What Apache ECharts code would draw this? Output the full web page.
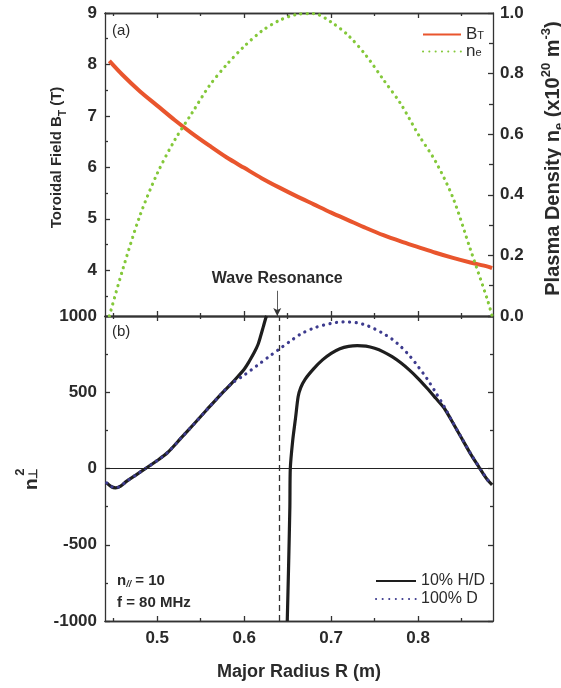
<!DOCTYPE html>
<html><head><meta charset="utf-8">
<script src="https://cdn.jsdelivr.net/npm/echarts@6/dist/echarts.min.js"></script>
<style>html,body{margin:0;padding:0;background:#fff}#c{width:561px;height:688px}</style>
</head><body><div id="c"></div>
<script>
// ---- Panel (a): toroidal field and density vs major radius ----
const rA = [0.445,0.46,0.48,0.50,0.52,0.54,0.56,0.58,0.60,0.62,0.64,0.66,0.68,0.70,0.72,0.74,0.76,0.78,0.80,0.82,0.84,0.86,0.88,0.885];
const bT = [8.07,7.80,7.48,7.20,6.92,6.66,6.42,6.19,5.99,5.79,5.61,5.44,5.28,5.12,4.97,4.82,4.68,4.56,4.45,4.34,4.24,4.15,4.07,4.04];
const ne = [0.0,0.15,0.33,0.47,0.58,0.67,0.76,0.83,0.89,0.94,0.975,0.995,0.998,0.97,0.925,0.86,0.78,0.70,0.60,0.51,0.39,0.22,0.05,0.0];

// ---- Panel (b): n_perp^2 ----
const rD  = [0.442,0.447,0.452,0.458,0.465,0.475,0.4866,0.50,0.512,0.527,0.542,0.557,0.573,0.585,0.60,0.615,0.63,0.642,0.655,0.666,0.682,0.70,0.71,0.716,0.72,0.73,0.74,0.75,0.76,0.77,0.78,0.79,0.80,0.81,0.82,0.83,0.84,0.85,0.86,0.87,0.875,0.88,0.885];
const n2D = [-94,-118,-127,-115,-83,-45,0,52,105,197,290,385,485,555,612,676,740,790,843,885,925,952,960,962,961,955,940,915,885,848,800,740,668,590,500,405,300,200,100,10,-35,-75,-105];
const rHDleft  = [0.442,0.447,0.452,0.458,0.465,0.475,0.4866,0.50,0.512,0.527,0.542,0.557,0.573,0.585,0.593,0.60,0.606,0.6115,0.616,0.619,0.622,0.625,0.6258];
const n2HDleft = [-94,-118,-127,-115,-83,-45,0,52,105,197,290,385,485,555,605,651,705,760,815,870,930,990,1000];
const rHDright  = [0.6495,0.651,0.6525,0.653,0.6557,0.659,0.662,0.665,0.67,0.68,0.69,0.70,0.71,0.72,0.73,0.74,0.75,0.76,0.77,0.78,0.79,0.80,0.81,0.82,0.83,0.84,0.85,0.86,0.87,0.875,0.88,0.885];
const n2HDright = [-1000,-650,-250,0,180,330,470,530,585,655,712,755,785,801,806,802,788,765,733,693,645,590,528,462,395,298,198,98,8,-37,-77,-107];

// ---- Axes / ticks ----
const xMin = 0.44, xMax = 0.886;
const xMajorTicks = [0.5,0.6,0.7,0.8];
const xMinorTicks = [0.45,0.55,0.65,0.75,0.85];
const bMin = 3.11, bMax = 9;
const bMajorTicks = [4,5,6,7,8,9];
const bMinorTicks = [3.5,4.5,5.5,6.5,7.5,8.5];
const neTicks = [0,0.2,0.4,0.6,0.8,1.0];
const n2Ticks = [-1000,-500,0,500,1000];
const resonanceR = 0.638;

const FONT = 'Liberation Sans, Arial, sans-serif';
const AX = '#333';
const TXT = '#2a2a2a';
const pair = (xs, ys) => xs.map((x, i) => [x, ys[i]]);

function xAx(grid, pos, ticks, len, withLabel) {
  const a = {
    type: 'value', gridIndex: grid, position: pos, min: xMin, max: xMax,
    axisLine: { show: true, onZero: false, lineStyle: { color: AX, width: 1.3 } },
    axisTick: { show: true, inside: true, length: len, customValues: ticks, lineStyle: { color: AX, width: 1.3 } },
    axisLabel: { show: false },
    splitLine: { show: false }
  };
  if (withLabel) {
    a.axisLabel = { show: true, customValues: ticks, margin: 9, fontFamily: FONT, fontWeight: 'bold', fontSize: 17, color: TXT,
      formatter: v => v.toFixed(1) };
    a.name = 'Major Radius R (m)';
    a.nameLocation = 'middle';
    a.nameGap = 42;
    a.nameTextStyle = { fontFamily: FONT, fontWeight: 'bold', fontSize: 18, color: TXT };
  }
  return a;
}

const chart = echarts.init(document.getElementById('c'));
const option = {
  animation: false,
  backgroundColor: '#fff',
  grid: [
    { left: 105, right: 68, top: 13, height: 303, outerBoundsMode: 'none', containLabel: false },
    { left: 105, right: 68, top: 316, height: 305, outerBoundsMode: 'none', containLabel: false }
  ],
  xAxis: [
    xAx(0, 'bottom', xMajorTicks, 5, false),
    xAx(0, 'bottom', xMinorTicks, 3, false),
    xAx(0, 'top', xMajorTicks, 5, false),
    xAx(0, 'top', xMinorTicks, 3, false),
    xAx(1, 'top', xMajorTicks, 5, false),
    xAx(1, 'top', xMinorTicks, 3, false),
    xAx(1, 'bottom', xMajorTicks, 5, true),
    xAx(1, 'bottom', xMinorTicks, 3, false)
  ],
  yAxis: [
    { type: 'value', gridIndex: 0, position: 'left', min: bMin, max: bMax,
      axisLine: { show: true, lineStyle: { color: AX, width: 1.3 } },
      axisTick: { show: true, inside: true, length: 5, customValues: bMajorTicks, lineStyle: { color: AX, width: 1.3 } },
      axisLabel: { customValues: bMajorTicks, margin: 8, fontFamily: FONT, fontWeight: 'bold', fontSize: 17, color: TXT },
      splitLine: { show: false },
      name: '{m|Toroidal Field B}{s|T}{m| (T)}', nameLocation: 'middle', nameRotate: 90, nameGap: 37,
      nameTextStyle: { padding: [0, 0, 0, 14], rich: {
        m: { fontFamily: FONT, fontWeight: 'bold', fontSize: 15, color: TXT, lineHeight: 22 },
        s: { fontFamily: FONT, fontWeight: 'bold', fontSize: 10, color: TXT, lineHeight: 10, verticalAlign: 'bottom' }
      } } },
    { type: 'value', gridIndex: 0, position: 'left', min: bMin, max: bMax,
      axisLine: { show: false },
      axisTick: { show: true, inside: true, length: 3, customValues: bMinorTicks, lineStyle: { color: AX, width: 1.3 } },
      axisLabel: { show: false }, splitLine: { show: false } },
    { type: 'value', gridIndex: 0, position: 'right', min: 0, max: 1, interval: 0.2,
      axisLine: { show: true, lineStyle: { color: AX, width: 1.3 } },
      axisTick: { show: true, inside: true, length: 5, lineStyle: { color: AX, width: 1.3 } },
      minorTick: { show: true, splitNumber: 2, length: 4, lineStyle: { color: AX, width: 1.3 } },
      axisLabel: { margin: 7, fontFamily: FONT, fontWeight: 'bold', fontSize: 17, color: TXT, formatter: v => v.toFixed(1) },
      splitLine: { show: false }, minorSplitLine: { show: false },
      name: '{m|Plasma Density n}{s|e}{m| (x10}{p|20}{m| m}{p|-3}{m|)}', nameLocation: 'middle', nameRotate: 90, nameGap: 47,
      nameTextStyle: { padding: [0, 0, 0, 12], rich: {
        m: { fontFamily: FONT, fontWeight: 'bold', fontSize: 20, color: TXT, lineHeight: 26 },
        s: { fontFamily: FONT, fontWeight: 'bold', fontSize: 13, color: TXT, lineHeight: 13, verticalAlign: 'bottom' },
        p: { fontFamily: FONT, fontWeight: 'bold', fontSize: 13, color: TXT, lineHeight: 13, verticalAlign: 'top' }
      } } },
    { type: 'value', gridIndex: 1, position: 'left', min: -1000, max: 1000, interval: 500,
      axisLine: { show: true, onZero: false, lineStyle: { color: AX, width: 1.3 } },
      axisTick: { show: true, inside: true, length: 5, lineStyle: { color: AX, width: 1.3 } },
      minorTick: { show: true, splitNumber: 2, length: 3, lineStyle: { color: AX, width: 1.3 } },
      axisLabel: { margin: 8, fontFamily: FONT, fontWeight: 'bold', fontSize: 17, color: TXT, formatter: v => String(v) },
      splitLine: { show: false }, minorSplitLine: { show: false },
      name: '{a|}{p|2}\n{n|n}{s|⊥}', nameLocation: 'middle', nameRotate: 90, nameGap: 65,
      nameTextStyle: { align: 'right', rich: {
        a: { width: 11, fontSize: 12, lineHeight: 7 },
        p: { fontFamily: FONT, fontWeight: 'bold', fontSize: 13, color: TXT, lineHeight: 7 },
        n: { fontFamily: FONT, fontWeight: 'bold', fontSize: 19, color: TXT, lineHeight: 16 },
        s: { fontFamily: FONT, fontWeight: 'bold', fontSize: 12, color: TXT, lineHeight: 12, verticalAlign: 'bottom' }
      } } },
    { type: 'value', gridIndex: 1, position: 'right', min: -1000, max: 1000, interval: 500,
      axisLine: { show: true, onZero: false, lineStyle: { color: AX, width: 1.3 } },
      axisTick: { show: true, inside: true, length: 5, lineStyle: { color: AX, width: 1.3 } },
      minorTick: { show: true, splitNumber: 2, length: 3, lineStyle: { color: AX, width: 1.3 } },
      axisLabel: { show: false }, splitLine: { show: false }, minorSplitLine: { show: false } }
  ],
  legend: [
    { data: ['BT', 'ne'], orient: 'vertical', left: 417, top: 21, itemWidth: 38, itemHeight: 12, itemGap: 0,
      itemStyle: { opacity: 0 },
      formatter: n => n === 'BT' ? '{m|B}{s|T}' : '{m|n}{s|e}',
      textStyle: { rich: {
        m: { fontFamily: FONT, fontSize: 17, color: TXT, lineHeight: 14 },
        s: { fontFamily: FONT, fontSize: 11, color: TXT, lineHeight: 10, verticalAlign: 'bottom' }
      } } },
    { data: ['10% H/D', '100% D'], orient: 'vertical', left: 370, top: 568, itemWidth: 40, itemHeight: 12, itemGap: 2,
      itemStyle: { opacity: 0 },
      textStyle: { fontFamily: FONT, fontSize: 16, color: TXT, lineHeight: 13 } }
  ],
  graphic: [
    { type: 'text', left: 112, top: 23, style: { text: '(a)', font: '15px ' + FONT, fill: TXT } },
    { type: 'text', left: 112, top: 324, style: { text: '(b)', font: '15px ' + FONT, fill: TXT } },
    { type: 'text', left: 117, top: 573, style: { text: '{m|n}{s|//}{m| = 10}', rich: {
        m: { fontFamily: FONT, fontWeight: 'bold', fontSize: 15, fill: TXT, lineHeight: 18 },
        s: { fontFamily: FONT, fontWeight: 'bold', fontStyle: 'italic', fontSize: 9, fill: TXT, lineHeight: 9, verticalAlign: 'bottom' }
      } } },
    { type: 'text', left: 117, top: 595, style: { text: 'f = 80 MHz', font: 'bold 15px ' + FONT, fill: TXT } }
  ],
  series: [
    { name: 'BT', type: 'line', xAxisIndex: 0, yAxisIndex: 0, data: pair(rA, bT), symbol: 'none', smooth: 0.3,
      lineStyle: { color: '#e9552d', width: 4 }, itemStyle: { color: '#e9552d' },
      markLine: { silent: true, symbol: ['none', 'arrow'], symbolSize: [6, 8],
        lineStyle: { color: '#333', width: 0.8, type: 'solid' },
        label: { show: true, position: 'start', distance: 4, formatter: 'Wave Resonance',
          fontFamily: FONT, fontWeight: 'bold', fontSize: 16, color: TXT },
        data: [[{ coord: [resonanceR, 3.6] }, { coord: [resonanceR, bMin] }]] } },
    { name: 'ne', type: 'line', xAxisIndex: 0, yAxisIndex: 2, data: pair(rA, ne), symbol: 'none', smooth: 0.3,
      lineStyle: { color: '#84c83a', width: 3.2, type: [0.1, 6.2], cap: 'round' }, itemStyle: { color: '#84c83a' } },
    { name: '10% H/D', type: 'line', xAxisIndex: 6, yAxisIndex: 3, data: pair(rHDleft, n2HDleft), symbol: 'none', smooth: 0.3,
      lineStyle: { color: '#1e1e1e', width: 3.2 }, itemStyle: { color: '#1e1e1e' } },
    { name: '10% H/D', type: 'line', xAxisIndex: 6, yAxisIndex: 3, data: pair(rHDright, n2HDright), symbol: 'none', smooth: 0.25,
      lineStyle: { color: '#1e1e1e', width: 3.2 }, itemStyle: { color: '#1e1e1e' } },
    { name: '100% D', type: 'line', xAxisIndex: 6, yAxisIndex: 3, data: pair(rD, n2D), symbol: 'none', smooth: 0.3,
      lineStyle: { color: '#3d3b8e', width: 3.2, type: [0.1, 6.5], cap: 'round' }, itemStyle: { color: '#3d3b8e' },
      markLine: { silent: true, symbol: ['none', 'none'], label: { show: false },
        data: [
          { yAxis: 0, lineStyle: { color: '#222', width: 1.2, type: 'solid' } },
          { xAxis: resonanceR, lineStyle: { color: '#333', width: 1.3, type: [6, 4] } }
        ] } }
  ]
};
chart.setOption(option);
</script></body></html>
